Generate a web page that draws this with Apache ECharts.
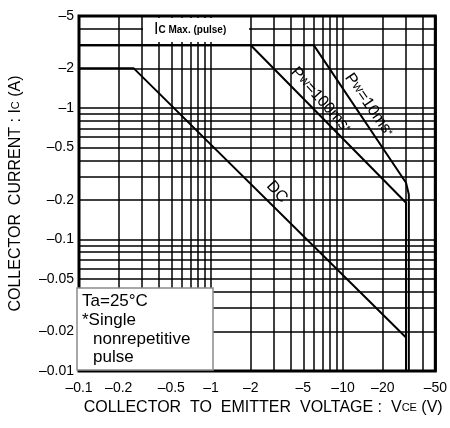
<!DOCTYPE html>
<html>
<head>
<meta charset="utf-8">
<script src="https://cdn.jsdelivr.net/npm/echarts@6/dist/echarts.min.js"></script>
<style>
  html, body { margin: 0; padding: 0; background: #fff; }
  #chart { width: 450px; height: 428px; }
</style>
</head>
<body>
<div id="chart"></div>
<script>
// tick labels (magnitudes, shown with a minus sign)
const xTickLabels = [0.1, 0.2, 0.5, 1, 2, 5, 10, 20, 50];
const yTickLabels = [0.01, 0.02, 0.05, 0.1, 0.2, 0.5, 1, 2, 5];
// log grid lines
const xGrid = [0.1, 0.2, 0.3, 0.4, 0.5, 0.6, 0.7, 0.8, 0.9, 1, 2, 3, 4, 5, 6, 7, 8, 9, 10, 20, 30, 40, 50];
const yGrid = [0.01, 0.02, 0.03, 0.04, 0.05, 0.06, 0.07, 0.08, 0.09, 0.1, 0.2, 0.3, 0.4, 0.5, 0.6, 0.7, 0.8, 0.9, 1, 2, 3, 4, 5];

// safe operating area curves: VCE (V) / IC (A), magnitudes
const dcV = [0.1, 0.26, 30];
const dcI = [2, 2, 0.018];
const pw100V = [0.1, 2, 30, 30];
const pw100I = [3, 3, 0.19, 0.01];
const pw10V = [0.1, 6, 30, 31.5, 31.5];
const pw10I = [3, 3, 0.27, 0.22, 0.01];

const FONT = "'Liberation Sans', Arial, sans-serif";
const pairs = (xs, ys) => xs.map((x, i) => [x, ys[i]]);
const neg = v => '\u2013' + v;

const chart = echarts.init(document.getElementById('chart'));

const lineSeries = (name, xs, ys) => ({
  name: name,
  type: 'line',
  symbol: 'none',
  data: pairs(xs, ys),
  lineStyle: { color: '#000', width: 2 },
  z: 3,
});

const txt = (text, x, y, size) => ({
  type: 'text', z: 101, x: x, y: y,
  style: { text: text, verticalAlign: 'middle', font: size + 'px ' + FONT, fill: '#000' },
});

const pwLabel = (ms, x, y, deg) => ({
  type: 'text', z: 101, x: x, y: y, rotation: -deg * Math.PI / 180,
  style: {
    text: '{b|P}{s|W}{b|=' + ms + 'ms}{s|*}', align: 'center', verticalAlign: 'middle',
    rich: { b: { fontFamily: FONT, fontSize: 16, fill: '#000' }, s: { fontFamily: FONT, fontSize: 10.5, fill: '#000' } },
  },
});

chart.setOption({
  animation: false,
  backgroundColor: '#fff',
  grid: {
    left: 77, right: 13, top: 16, bottom: 57,
    show: true, borderColor: '#000', borderWidth: 3,
  },
  xAxis: {
    type: 'log', logBase: 10, min: 0.1, max: 50,
    name: 'COLLECTOR  TO  EMITTER  VOLTAGE :  V{s|CE} (V)',
    nameLocation: 'middle', nameGap: 28,
    nameTextStyle: { fontFamily: FONT, fontSize: 16, color: '#000', padding: [0, 0, 0, 12],
      rich: { s: { fontFamily: FONT, fontSize: 11, color: '#000' } } },
    axisLine: { show: false },
    axisTick: { show: false, customValues: xGrid },
    axisLabel: { customValues: xTickLabels, formatter: neg, fontFamily: FONT, fontSize: 14, color: '#000', margin: 10 },
    splitLine: { show: true, lineStyle: { color: '#000', width: 1.5 } },
  },
  yAxis: {
    type: 'log', logBase: 10, min: 0.01, max: 5,
    name: 'COLLECTOR  CURRENT : I{s|C} (A)',
    nameLocation: 'middle', nameGap: 55, nameRotate: 90,
    nameTextStyle: { fontFamily: FONT, fontSize: 16, color: '#000',
      rich: { s: { fontFamily: FONT, fontSize: 11, color: '#000' } } },
    axisLine: { show: false },
    axisTick: { show: false, customValues: yGrid },
    axisLabel: { customValues: yTickLabels, formatter: neg, fontFamily: FONT, fontSize: 14, color: '#000', margin: 5 },
    splitLine: { show: true, lineStyle: { color: '#000', width: 1.5 } },
  },
  series: [
    lineSeries('DC', dcV, dcI),
    lineSeries('Pw=100ms', pw100V, pw100I),
    lineSeries('Pw=10ms', pw10V, pw10I),
  ],
  graphic: [
    // IC Max. (pulse) label, white backing over the grid
    { type: 'rect', z: 100, shape: { x: 143, y: 18, width: 106, height: 24 }, style: { fill: '#fff' } },
    {
      type: 'text', z: 101, x: 154, y: 30,
      style: {
        text: '{b|I}{s|C Max. (pulse)}', verticalAlign: 'middle',
        rich: {
          b: { fontFamily: FONT, fontSize: 16, fill: '#000' },
          s: { fontFamily: FONT, fontSize: 10, fill: '#000', fontWeight: 'bold' },
        },
      },
    },
    pwLabel('10', 369, 105, 55),
    pwLabel('100', 321, 100, 48),
    {
      type: 'text', z: 101, x: 277, y: 192, rotation: -48 * Math.PI / 180,
      style: { text: 'DC', align: 'center', verticalAlign: 'middle', font: '16px ' + FONT, fill: '#000' },
    },
    // note box
    { type: 'rect', z: 100, shape: { x: 77, y: 288, width: 136, height: 82 }, style: { fill: '#fff', stroke: '#8c8c8c', lineWidth: 1.5 } },
    txt('Ta=25°C', 82, 301, 17),
    txt('*Single', 82, 320, 17),
    txt('nonrepetitive', 93, 339, 17),
    txt('pulse', 93, 357, 17),
  ],
});
</script>
</body>
</html>
